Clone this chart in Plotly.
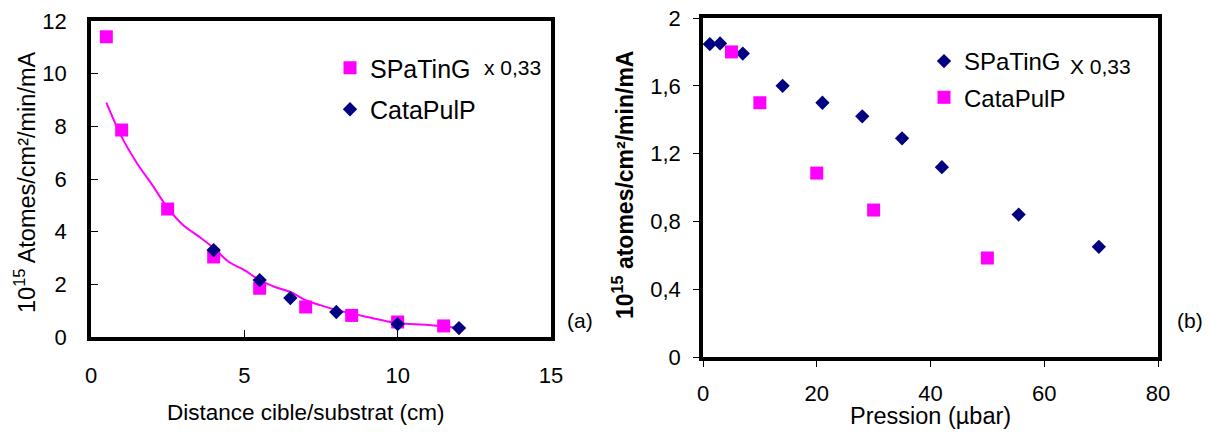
import plotly.graph_objects as go

# ---- Panel (a): distance ----
a_spat_x = [0.5, 1.0, 2.5, 4.0, 5.5, 7.0, 8.5, 10.0, 11.5]
a_spat_y = [11.4, 7.86, 4.86, 3.04, 1.85, 1.14, 0.82, 0.57, 0.42]
a_cata_x = [4.0, 5.5, 6.5, 8.0, 10.0, 12.0]
a_cata_y = [3.3, 2.16, 1.48, 0.95, 0.49, 0.34]
a_fit_x = [0.5, 1.0, 1.5, 2.0, 2.5, 3.0, 3.5, 4.0, 4.5, 5.0, 5.5, 6.0, 6.5, 7.0, 7.5, 8.0, 9.0, 10.0, 11.0, 12.0]
a_fit_y = [8.9, 7.6, 6.6, 5.77, 4.9, 4.25, 3.83, 3.38, 2.85, 2.54, 2.16, 1.9, 1.71, 1.4, 1.2, 1.03, 0.76, 0.53, 0.46, 0.34]
a_xticks = [0, 5, 10, 15]
a_yticks = [0, 2, 4, 6, 8, 10, 12]

# ---- Panel (b): pressure ----
b_spat_x = [1.2, 3.0, 7.0, 14.0, 21.0, 28.0, 35.0, 42.0, 55.5, 69.6]
b_spat_y = [1.846, 1.85, 1.79, 1.60, 1.50, 1.42, 1.29, 1.12, 0.84, 0.65]
b_cata_x = [5.0, 10.0, 20.0, 30.0, 50.0]
b_cata_y = [1.80, 1.50, 1.085, 0.867, 0.584]
b_xticks = [0, 20, 40, 60, 80]
b_yticks = [0, 0.4, 0.8, 1.2, 1.6, 2.0]
b_yticktext = ["0", "0,4", "0,8", "1,2", "1,6", "2"]

MAG = "#FF00FF"
NAVY = "#000080"
FONT = "Liberation Sans, Arial, sans-serif"

# page body adds an 8px offset; size the figure to fill the rest of the window
OFF = 8
W, H = 1211 - OFF, 432 - OFF


def px(x):
    return (x - OFF) / W


def py(y):
    return 1 - (y - OFF) / H


fig = go.Figure()

fig.add_trace(go.Scatter(x=a_fit_x, y=a_fit_y, mode="lines", line=dict(color=MAG, width=2, shape="spline"),
                         showlegend=False, xaxis="x", yaxis="y", hoverinfo="skip"))
fig.add_trace(go.Scatter(x=a_spat_x, y=a_spat_y, mode="markers", name="SPaTinG",
                         marker=dict(symbol="square", size=13, color=MAG),
                         xaxis="x", yaxis="y", legend="legend", legendgroup="a1"))
fig.add_trace(go.Scatter(x=a_cata_x, y=a_cata_y, mode="markers", name="CataPulP",
                         marker=dict(symbol="diamond", size=11, color=NAVY),
                         xaxis="x", yaxis="y", legend="legend", legendgroup="a2"))

fig.add_trace(go.Scatter(x=b_spat_x, y=b_spat_y, mode="markers", name="SPaTinG",
                         marker=dict(symbol="diamond", size=11, color=NAVY),
                         xaxis="x2", yaxis="y2", legend="legend2", legendgroup="b1"))
fig.add_trace(go.Scatter(x=b_cata_x, y=b_cata_y, mode="markers", name="CataPulP",
                         marker=dict(symbol="square", size=13, color=MAG),
                         xaxis="x2", yaxis="y2", legend="legend2", legendgroup="b2"))

axis_common = dict(showgrid=False, zeroline=False, showline=True, linecolor="black", mirror=True,
                   tickfont=dict(family=FONT, size=22, color="black"), tickcolor="black", automargin=False,
                   ticklabeloverflow="allow")

fig.update_layout(
    width=W, height=H,
    margin=dict(l=0, r=0, t=0, b=0, pad=0, autoexpand=False),
    paper_bgcolor="white", plot_bgcolor="white",
    font=dict(family=FONT, color="black"),
    xaxis=dict(domain=[px(91), px(551)], range=[0, 15], tickvals=a_xticks, ticks="inside", ticklen=7,
               linewidth=3.5, anchor="y", ticklabelstandoff=16, **axis_common),
    yaxis=dict(domain=[py(337), py(21)], range=[0, 12], tickvals=a_yticks, ticks="inside", ticklen=7,
               linewidth=3.5, anchor="x", ticklabelstandoff=16, **axis_common),
    xaxis2=dict(domain=[px(703), px(1158)], range=[0, 80], tickvals=b_xticks, ticks="outside", ticklen=6,
                linewidth=3.5, anchor="y2", ticklabelstandoff=8, **axis_common),
    yaxis2=dict(domain=[py(357), py(18)], range=[0, 2], tickvals=b_yticks, ticktext=b_yticktext,
                ticks="outside", ticklen=6, linewidth=3.5, anchor="x2", ticklabelstandoff=8, **axis_common),
    legend=dict(x=px(330), y=py(45), xanchor="left", yanchor="top", bgcolor="rgba(0,0,0,0)",
                font=dict(family=FONT, size=25, color="black"), traceorder="grouped", tracegroupgap=6),
    legend2=dict(x=px(924), y=py(39), xanchor="left", yanchor="top", bgcolor="rgba(0,0,0,0)",
                 font=dict(family=FONT, size=24, color="black"), traceorder="grouped", tracegroupgap=2),
    annotations=[
        dict(text="x 0,33", x=px(482), y=py(68), xref="paper", yref="paper", xanchor="left", yanchor="middle",
             showarrow=False, font=dict(family=FONT, size=21, color="black")),
        dict(text="X 0,33", x=px(1068), y=py(66), xref="paper", yref="paper", xanchor="left", yanchor="middle",
             showarrow=False, font=dict(family=FONT, size=21, color="black")),
        dict(text="(a)", x=px(580), y=py(320), xref="paper", yref="paper", xanchor="center", yanchor="middle",
             showarrow=False, font=dict(family=FONT, size=21, color="black")),
        dict(text="(b)", x=px(1190), y=py(320), xref="paper", yref="paper", xanchor="center", yanchor="middle",
             showarrow=False, font=dict(family=FONT, size=21, color="black")),
        dict(text="Distance cible/substrat (cm)", x=px(306), y=py(412), xref="paper", yref="paper",
             xanchor="center", yanchor="middle", showarrow=False, font=dict(family=FONT, size=22.5, color="black")),
        dict(text="Pression (µbar)", x=px(930), y=py(416), xref="paper", yref="paper",
             xanchor="center", yanchor="middle", showarrow=False, font=dict(family=FONT, size=23.5, color="black")),
        dict(text="10<sup>15</sup> Atomes/cm²/min/mA", x=px(25), y=py(182), xref="paper", yref="paper",
             xanchor="center", yanchor="middle", textangle=-90, showarrow=False,
             font=dict(family=FONT, size=23.5, color="black")),
        dict(text="<b>10<sup>15</sup> atomes/cm²/min/mA</b>", x=px(623), y=py(185), xref="paper", yref="paper",
             xanchor="center", yanchor="middle", textangle=-90, showarrow=False,
             font=dict(family=FONT, size=23, color="black")),
    ],
)

fig.write_html("out.html")
